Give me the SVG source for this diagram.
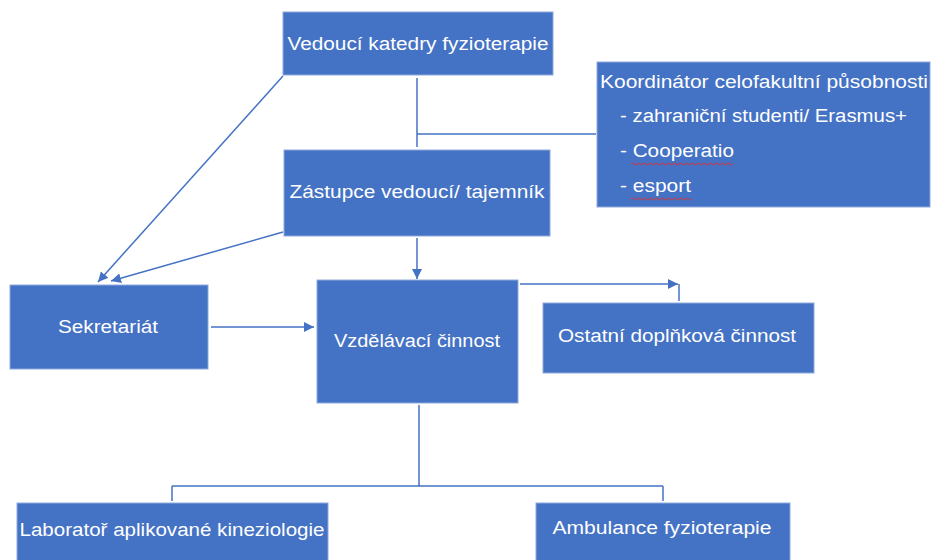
<svg xmlns="http://www.w3.org/2000/svg" width="933" height="560" viewBox="0 0 933 560">
<style>
.box{fill:#4472C4;stroke:#8FAADC;stroke-width:1}
.t{font-family:"Liberation Sans",Arial,sans-serif;font-size:18px;fill:#FFFFFF}
.ln{fill:none;stroke:#4472C4;stroke-width:1.5}
.wave{fill:none;stroke:#E03030;stroke-width:1}
</style>
<defs>
<marker id="ah" viewBox="0 0 10 10" refX="10" refY="5" markerWidth="7" markerHeight="7" markerUnits="userSpaceOnUse" orient="auto">
<path d="M0,0 L10,5 L0,10 z" fill="#4472C4"/>
</marker>
<marker id="ahb" viewBox="0 0 10 10" refX="10" refY="5" markerWidth="10" markerHeight="10" markerUnits="userSpaceOnUse" orient="auto">
<path d="M0,0 L10,5 L0,10 z" fill="#4472C4"/>
</marker>
</defs>
<rect width="933" height="560" fill="#FFFFFF"/>
<g id="connectors">
<path class="ln" d="M417,78 V147"/>
<path class="ln" d="M417,134 H596"/>
<path class="ln" d="M283,76 L98,282" marker-end="url(#ahb)"/>
<path class="ln" d="M283,232 L111,281" marker-end="url(#ahb)"/>
<path class="ln" d="M417,238 V279" marker-end="url(#ahb)"/>
<path class="ln" d="M211,327 H314" marker-end="url(#ahb)"/>
<path class="ln" d="M520,284 H678" marker-end="url(#ahb)"/>
<path class="ln" d="M679,284 V301"/>
<path class="ln" d="M419,405 V486 M172,486 H663 M172,486 V501 M663,486 V501"/>
</g>
<g id="vedouci">
<rect class="box" x="283" y="12" width="270" height="63"/>
<text class="t" x="418" y="50" text-anchor="middle" textLength="261" lengthAdjust="spacingAndGlyphs">Vedoucí katedry fyzioterapie</text>
</g>
<g id="koordinator">
<rect class="box" x="597" y="62" width="333" height="145"/>
<text class="t" x="600" y="88" textLength="328" lengthAdjust="spacingAndGlyphs">Koordinátor celofakultní působnosti</text>
<text class="t" x="620" y="122" textLength="287" lengthAdjust="spacingAndGlyphs">- zahraniční studenti/ Erasmus+</text>
<text class="t" x="620" y="157" textLength="114" lengthAdjust="spacingAndGlyphs">- Cooperatio</text>
<text class="t" x="620" y="192" textLength="71" lengthAdjust="spacingAndGlyphs">- esport</text>
<path class="wave" d="M631,164 q1.5,-2 3,0 t3,0 t3,0 t3,0 t3,0 t3,0 t3,0 t3,0 t3,0 t3,0 t3,0 t3,0 t3,0 t3,0 t3,0 t3,0 t3,0 t3,0 t3,0 t3,0 t3,0 t3,0 t3,0 t3,0 t3,0 t3,0 t3,0 t3,0 t3,0 t3,0 t3,0 t3,0 t3,0 t3,0"/>
<path class="wave" d="M631,199 q1.5,-2 3,0 t3,0 t3,0 t3,0 t3,0 t3,0 t3,0 t3,0 t3,0 t3,0 t3,0 t3,0 t3,0 t3,0 t3,0 t3,0 t3,0 t3,0 t3,0 t3,0"/>
</g>
<g id="zastupce">
<rect class="box" x="284" y="150" width="266" height="86"/>
<text class="t" x="417" y="198" text-anchor="middle" textLength="255" lengthAdjust="spacingAndGlyphs">Zástupce vedoucí/ tajemník</text>
</g>
<g id="sekretariat">
<rect class="box" x="10" y="285" width="198" height="84"/>
<text class="t" x="108" y="333" text-anchor="middle" textLength="100" lengthAdjust="spacingAndGlyphs">Sekretariát</text>
</g>
<g id="vzdelavaci">
<rect class="box" x="317" y="280" width="201" height="123"/>
<text class="t" x="417" y="347" text-anchor="middle" textLength="166" lengthAdjust="spacingAndGlyphs">Vzdělávací činnost</text>
</g>
<g id="ostatni">
<rect class="box" x="543" y="303" width="271" height="70"/>
<text class="t" x="677" y="342" text-anchor="middle" textLength="238" lengthAdjust="spacingAndGlyphs">Ostatní doplňková činnost</text>
</g>
<g id="laborator">
<rect class="box" x="17" y="503" width="311" height="62"/>
<text class="t" x="172" y="536" text-anchor="middle" textLength="305" lengthAdjust="spacingAndGlyphs">Laboratoř aplikované kineziologie</text>
</g>
<g id="ambulance">
<rect class="box" x="536" y="503" width="254" height="62"/>
<text class="t" x="662" y="534" text-anchor="middle" textLength="219" lengthAdjust="spacingAndGlyphs">Ambulance fyzioterapie</text>
</g>
</svg>
